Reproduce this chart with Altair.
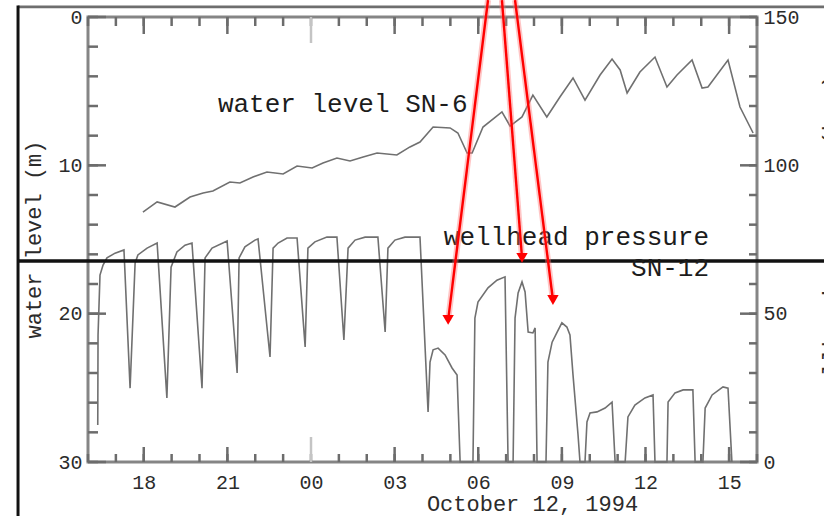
import json
import altair as alt
import pandas as pd

# ---------------- data (time = hours after 16:00, Oct 11 1994) ----------------
# water level SN-6 (m below surface, left axis, inverted)
wl_hours = [1.97, 2.48, 3.12, 3.66, 4.13, 4.48, 5.09, 5.45, 5.92, 6.42,
            7.00, 7.50, 8.04, 8.43, 8.93, 9.40, 9.87, 10.37, 11.08, 11.55,
            11.91, 12.38, 12.99, 13.27, 13.60, 13.78, 14.17, 14.85, 15.14, 15.57,
            15.96, 16.46, 16.93, 17.40, 17.83, 18.37, 18.80, 19.09, 19.34, 19.80,
            20.34, 20.77, 21.13, 21.67, 22.03, 22.24, 22.96, 23.39, 23.86]
wl_m = [13.15, 12.47, 12.81, 12.14, 11.87, 11.73, 11.12, 11.19, 10.79, 10.45,
        10.58, 10.05, 10.18, 9.84, 9.51, 9.71, 9.44, 9.17, 9.30, 8.76,
        8.43, 7.42, 7.48, 7.82, 9.17, 9.17, 7.42, 6.40, 7.35, 6.74,
        5.26, 6.74, 5.39, 4.11, 5.60, 3.91, 2.83, 3.57, 5.12, 3.71,
        2.70, 4.72, 3.91, 2.90, 4.79, 4.72, 2.90, 6.07, 7.82]

# wellhead pressure SN-12 (bar, right axis)
wp_hours = [0.35, 0.36, 0.43, 0.54, 0.68, 0.97, 1.29,
            1.51, 1.69, 1.79, 2.12, 2.48,
            2.83, 2.98, 3.19, 3.48, 3.73,
            4.09, 4.20, 4.45, 4.99,
            5.35, 5.42, 5.63, 5.99, 6.10,
            6.53, 6.64, 6.82, 7.14, 7.50,
            7.79, 7.89, 8.14, 8.57, 8.93,
            9.18, 9.33, 9.58, 9.94, 10.40,
            10.66, 10.76, 11.01, 11.37, 11.91,
            12.20, 12.27, 12.38, 12.56, 12.81, 13.06, 13.24, 13.35,
            13.81, 13.88, 13.99, 14.35, 14.67, 14.96, 15.07,
            15.25, 15.32, 15.43, 15.57, 15.68, 15.79, 15.96, 16.04, 16.11,
            16.43, 16.50, 16.65, 16.83, 17.00, 17.18, 17.29, 17.40, 17.58, 17.65,
            17.83, 17.90, 18.01, 18.26, 18.55, 18.80, 18.91,
            19.27, 19.37, 19.62, 19.98, 20.27, 20.34,
            20.77, 20.81, 21.06, 21.35, 21.70, 21.78,
            22.06, 22.14, 22.39, 22.78, 22.96, 23.10]
wp_bar = [12.5, 42.8, 63.0, 66.4, 68.8, 70.4, 71.5,
          24.9, 67.1, 69.8, 72.1, 73.8,
          21.6, 65.7, 70.8, 73.1, 73.8,
          24.9, 68.8, 72.1, 74.5,
          30.0, 68.8, 72.5, 74.8, 75.2,
          35.4, 72.1, 73.8, 75.5, 75.5,
          38.8, 72.1, 74.2, 75.8, 75.8,
          41.1, 72.1, 74.8, 75.8, 75.8,
          43.8, 72.1, 74.8, 75.8, 75.8,
          16.9, 33.7, 37.8, 38.4, 36.1, 31.7, 29.3, 0,
          0, 48.5, 53.9, 58.7, 61.3, 62.4, 0,
          0, 48.5, 57.0, 60.7, 57.3, 43.8, 43.5, 45.2, 0,
          0, 33.7, 40.4, 43.8, 46.9, 45.5, 42.8, 29.3, 9.1, 0,
          0, 13.5, 16.5, 16.9, 18.2, 20.2, 0,
          0, 15.2, 19.2, 21.6, 22.6, 0,
          0, 20.2, 23.3, 24.3, 24.3, 0,
          0, 18.2, 22.6, 25.3, 24.9, 0]

# axes
x_ticks = [2, 5, 8, 11, 14, 17, 20, 23]
x_tick_labels = ["18", "21", "00", "03", "06", "09", "12", "15"]
x_midnight = [8]
x_minor = list(range(0, 25))
wl_ticks = [0, 10, 20, 30]
wl_minor = list(range(0, 31, 2))
p_ticks = [0, 50, 100, 150]
p_minor = list(range(0, 151, 10))
X_DOM = [0, 24]
W_DOM = [0, 30]
P_DOM = [0, 150]

x_title = "October 12, 1994"
wl_title = "water level (m)"
p_title = "wellhead pressure (bar)"

# annotations (in data coordinates)
wl_label = ["water level SN-6"]
wl_label_h = [4.66]
wl_label_v = [6.40]
p_labels = ["wellhead pressure", "SN-12"]
p_labels_h = [22.28, 22.28]
p_labels_v = [73.1, 62.7]

arrow_h0 = [14.35, 14.85, 15.32]
arrow_p0 = [155.7, 155.7, 155.7]
arrow_h1 = [12.92, 15.57, 16.68]
arrow_p1 = [47.9, 68.8, 54.6]

# frame lines of the scanned page (pressure coordinates)
frame_h = [-2.51, 27.0]
top_line_p = [153.4]
sep_line_p = [67.75]
left_line_h = [-2.51]
left_line_p = [153.9, -20.0]

# ---------------- styling ----------------
FONT = "Liberation Mono"
AX_GRAY = "#858585"
TICK_GRAY = "#6c6c6c"
LIGHT_TICK = "#c4c4c4"
LBL = "#2b2b2b"
CURVE = "#707070"
PLOT_W, PLOT_H = 669, 445


def xs():
    return alt.Scale(domain=X_DOM, nice=False, zero=False)


def ws():
    return alt.Scale(domain=W_DOM, reverse=True, nice=False, zero=False)


def ps():
    return alt.Scale(domain=P_DOM, nice=False, zero=False)


common = dict(grid=False, domain=False, ticks=False,
              labelFont=FONT, titleFont=FONT, labelColor=LBL, titleColor=LBL,
              labelFlush=False, labelOverlap=False, labelFontSize=20,
              titleFontWeight="normal")

x_label_expr = f"{json.dumps(x_tick_labels)}[indexof({json.dumps(x_ticks)}, datum.value)]"

ax_bottom = alt.Axis(orient="bottom", values=x_ticks, labelExpr=x_label_expr,
                     labelPadding=10,
                     title=x_title, titleFontSize=22, titleX=444, titleY=48,
                     titleAlign="center", titleBaseline="alphabetic", **common)
ax_left = alt.Axis(orient="left", values=wl_ticks,
                   labelPadding=6, title=wl_title, titleFontSize=22,
                   titleX=-55, titleY=222, titleAngle=270,
                   titleAlign="center", titleBaseline="middle", **common)
ax_right = alt.Axis(orient="right", values=p_ticks,
                    labelPadding=6, title=p_title, titleFontSize=24,
                    titleX=63, titleY=222, titleAngle=270,
                    titleAlign="center", titleBaseline="top", **common)

water = pd.DataFrame({"h": wl_hours, "v": wl_m})
press = pd.DataFrame({"h": wp_hours, "v": wp_bar})

WX = lambda: alt.X("h:Q", scale=xs(), axis=ax_bottom)
WY = lambda: alt.Y("v:Q", scale=ws(), axis=ax_left)
PY = lambda: alt.Y("v:Q", scale=ps(), axis=ax_right)
PX = lambda: alt.X("h:Q", scale=xs(), axis=None)


# ---- tick marks of the frame (inward), placed through the scales ----
def vticks(values, y0, y1, color, width=2.5):
    return alt.Chart(pd.DataFrame({"h": values})).mark_rule(
        color=color, strokeWidth=width).encode(
        x=WX(), y=alt.value(y0), y2=alt.value(y1))


def hticks(values, enc_y, x0, x1, color, width=2.5):
    return alt.Chart(pd.DataFrame({"v": values})).mark_rule(
        color=color, strokeWidth=width).encode(
        y=enc_y, x=alt.value(x0), x2=alt.value(x1))


top_major = [v for v in x_ticks if v not in x_midnight]
ticks_w = [
    vticks(x_minor, 0, 9, TICK_GRAY),
    vticks(top_major, 0, 17, TICK_GRAY),
    vticks(x_minor, PLOT_H, PLOT_H - 8, TICK_GRAY),
    vticks(top_major, PLOT_H, PLOT_H - 15, TICK_GRAY),
    vticks(x_midnight, 0, 26, LIGHT_TICK),
    vticks(x_midnight, PLOT_H, PLOT_H - 25, LIGHT_TICK),
    hticks(wl_minor, WY(), 0, 10, TICK_GRAY),
    hticks(wl_ticks, WY(), 0, 18, TICK_GRAY),
]

# ---- group 1: water level ----
w_line = alt.Chart(water).mark_line(color=CURVE, strokeWidth=1.6, clip=False).encode(x=WX(), y=WY())
w_text = alt.Chart(pd.DataFrame({"h": wl_label_h, "v": wl_label_v, "t": wl_label})).mark_text(
    align="left", baseline="alphabetic", font=FONT, fontSize=26, color="#1c1c1c"
).encode(x=WX(), y=WY(), text="t:N")

g1 = alt.layer(w_line, w_text, *ticks_w)

# ---- group 2: wellhead pressure + annotations ----
ticks_p = [
    hticks(p_minor, PY(), PLOT_W, PLOT_W - 8, TICK_GRAY),
    hticks(p_ticks, PY(), PLOT_W, PLOT_W - 17, TICK_GRAY),
]

p_line = alt.Chart(press).mark_line(color=CURVE, strokeWidth=1.6, clip=False).encode(x=PX(), y=PY())

top_rule = alt.Chart(pd.DataFrame({"h": [frame_h[0]], "h2": [frame_h[1]], "v": top_line_p})).mark_rule(
    color="#6e6e6e", strokeWidth=2.7, clip=False).encode(x=PX(), x2="h2:Q", y=PY())
sep_rule = alt.Chart(pd.DataFrame({"h": [frame_h[0]], "h2": [frame_h[1]], "v": sep_line_p})).mark_rule(
    color="#111111", strokeWidth=3.5, clip=False).encode(x=PX(), x2="h2:Q", y=PY())
left_rule = alt.Chart(pd.DataFrame({"h": left_line_h, "v": [left_line_p[0]], "v2": [left_line_p[1]]})).mark_rule(
    color="#111111", strokeWidth=3, clip=False).encode(x=PX(), y=PY(), y2="v2:Q")

p_text = alt.Chart(pd.DataFrame({"h": p_labels_h, "v": p_labels_v, "t": p_labels})).mark_text(
    align="right", baseline="alphabetic", font=FONT, fontSize=26, color="#1c1c1c"
).encode(x=PX(), y=PY(), text="t:N")

arrows = pd.DataFrame({"h": arrow_h0, "v": arrow_p0, "h2": arrow_h1, "v2": arrow_p1})
heads = pd.DataFrame({"h": arrow_h1, "v": arrow_p1})
arrow_halo = alt.Chart(arrows).mark_rule(color="#ff7070", strokeWidth=6, opacity=0.4, clip=False).encode(
    x=PX(), y=PY(), x2="h2:Q", y2="v2:Q")
arrow_line = alt.Chart(arrows).mark_rule(color="#ff0000", strokeWidth=2.4, clip=False).encode(
    x=PX(), y=PY(), x2="h2:Q", y2="v2:Q")
arrow_head = alt.Chart(heads).mark_point(shape="triangle-down", filled=True, size=130,
                                         color="#ff0000", opacity=1, clip=False).encode(x=PX(), y=PY())

g2 = alt.layer(p_line, *ticks_p, top_rule, sep_rule, left_rule, p_text,
               arrow_halo, arrow_line, arrow_head)

chart = alt.layer(g1, g2).resolve_scale(
    x="independent", y="independent"
).properties(
    width=PLOT_W, height=PLOT_H,
    padding={"left": 88, "top": 17, "right": 67, "bottom": 54},
    autosize=alt.AutoSizeParams(type="none"),
    background="white",
).configure_view(stroke=AX_GRAY, strokeWidth=3)

chart.save("out.html", embed_options={"renderer": "svg", "actions": False})
